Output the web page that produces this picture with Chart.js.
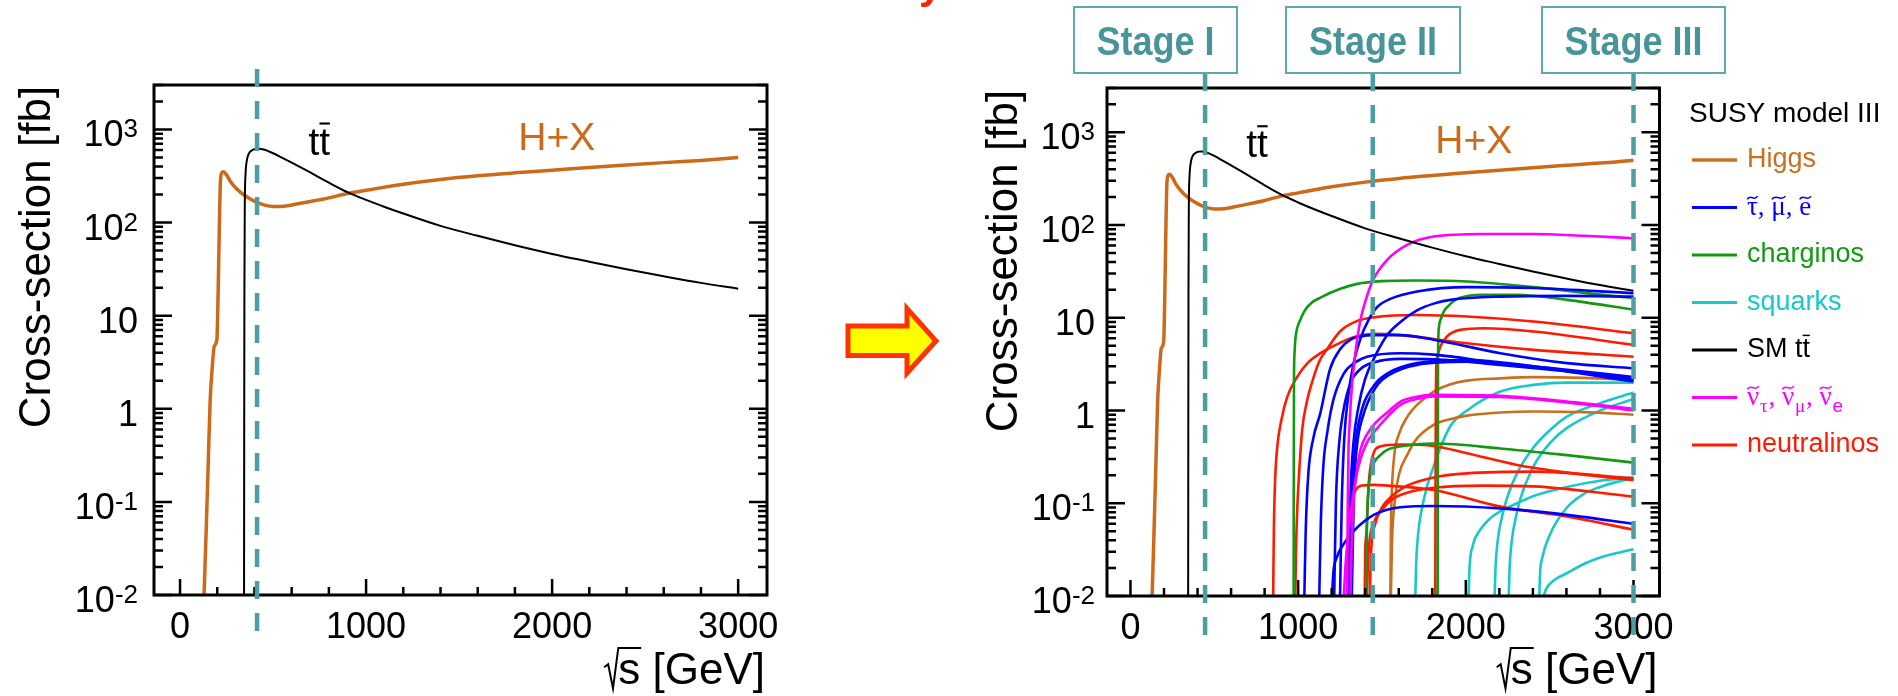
<!DOCTYPE html>
<html>
<head>
<meta charset="utf-8">
<script src="https://cdn.jsdelivr.net/npm/chart.js@4.4.1/dist/chart.umd.min.js"></script>
<style>
  html, body { margin: 0; padding: 0; background: #fff; }
  body { width: 1898px; height: 696px; position: relative; overflow: hidden; }
  canvas { position: absolute; top: 0; }
  #left { left: 0; }
  #right { left: 960px; }
</style>
</head>
<body>
<canvas id="left" width="960" height="696"></canvas>
<canvas id="right" width="938" height="696"></canvas>
<script>
var SANS = "'Liberation Sans', Arial, Helvetica, sans-serif";
var SERIF = "'Liberation Serif', 'Times New Roman', serif";

// ---- axes ----
var X_MIN = -140, X_MAX = 3155, Y_MIN = 0.01, Y_MAX = 3000;
var xTickValues = [0, 1000, 2000, 3000];
var xMinorStep = 200;
var yTickValues = [0.01, 0.1, 1, 10, 100, 1000];
var yTickLabels = ['10^{-2}', '10^{-1}', '1', '10', '10^{2}', '10^{3}'];
var yTitle = 'Cross-section [fb]';
var xTitle = '#sqrt{s} [GeV]';

// ---- stages ----
var stageLeftPlot = [414];
var stageEnergies = [445, 1445, 3000];
var stageNames = ['Stage I', 'Stage II', 'Stage III'];

// ---- SM processes: [sqrt(s) GeV, cross-section fb] ----
var higgsSM = [[129,0.01],[140,0.046],[151,0.24],[162,1.25],[172,2.6],[184,4.7],[198,5.5],[203,12],[208,40],[212,110],[216,250],[222,335],[234,352],[250,325],[270,278],[300,235],[340,200],[380,178],[420,163],[460,153],[500,149],[560,150],[620,157],[700,168],[800,184],[900,205],[1000,222],[1100,240],[1200,258],[1400,290],[1600,318],[1800,342],[2000,365],[2200,390],[2400,415],[2600,440],[2800,465],[3000,500]];
var ttbarSM = [[344,0.01],[345,1],[346,20],[348,150],[352,330],[358,450],[368,540],[385,595],[405,618],[425,622],[450,608],[500,555],[550,495],[600,440],[700,345],[800,268],[900,212],[1000,175],[1100,147],[1200,125],[1400,92],[1600,72],[1800,57],[2000,46],[2200,38],[2400,31.5],[2600,26.5],[2800,22.5],[3000,19.5]];

// ---- SUSY model III ----
var higgs2 = [[1550,0.01],[1553,0.05],[1560,0.15],[1575,0.35],[1600,0.55],[1650,0.85],[1709,1.15],[1808,1.6],[1900,1.9],[2007,2.1],[2206,2.22],[2404,2.29],[2700,2.25],[3000,2.14]];
var higgs3 = [[1553,0.01],[1560,0.04],[1575,0.1],[1600,0.2],[1650,0.33],[1709,0.5],[1808,0.7],[1900,0.8],[2007,0.88],[2206,0.95],[2404,0.975],[2700,0.96],[3000,0.9]];

var slepton1 = [[1037,0.01],[1045,0.05],[1060,0.2],[1090,0.5],[1132,0.93],[1190,2.8],[1251,4.6],[1312,5.8],[1372,6.3],[1451,6.5],[1610,6.5],[1808,5.8],[2206,4.15],[2603,3.24],[3000,2.86]];
var slepton2 = [[1126,0.01],[1135,0.06],[1150,0.25],[1175,0.6],[1210,1.3],[1272,2.5],[1340,3.3],[1411,3.8],[1610,4.15],[1808,4.0],[2206,3.24],[2603,2.75],[3000,2.3]];
var slepton3 = [[1250,0.01],[1260,0.1],[1275,0.5],[1300,1.5],[1330,3.2],[1372,6],[1420,9.5],[1471,13],[1550,16],[1709,19.2],[2007,21.4],[2404,20.9],[3000,18.4]];
var slepton4 = [[1300,0.01],[1312,0.12],[1330,0.45],[1360,1.1],[1400,2.2],[1451,3.6],[1531,6.5],[1610,9],[1709,12],[1808,14.2],[1908,15.6],[2206,16.9],[2600,17.2],[3000,16.9]];
var slepton5 = [[1215,0.01],[1225,0.1],[1245,0.45],[1270,1.0],[1312,1.97],[1372,2.8],[1451,3.3],[1610,3.6],[1808,3.57],[2206,3.1],[2600,2.65],[3000,2.23]];
var slepton6 = [[1310,0.01],[1322,0.12],[1340,0.4],[1372,0.9],[1451,1.85],[1531,2.5],[1709,3.24],[2007,3.5],[2404,3.0],[3000,2.14]];
var slepton7 = [[1320,0.01],[1332,0.12],[1350,0.4],[1385,0.85],[1460,1.75],[1540,2.4],[1709,3.1],[2007,3.35],[2404,2.95],[3000,2.05]];
var slepton8 = [[1202,0.01],[1210,0.018],[1230,0.026],[1270,0.036],[1331,0.05],[1400,0.065],[1451,0.075],[1530,0.085],[1610,0.0906],[1808,0.0935],[2206,0.088],[2603,0.075],[3000,0.06]];

var chargino1 = [[973,0.01],[974,0.3],[975,2],[978,4],[984,6],[995,7.8],[1013,9.5],[1040,12],[1080,14.5],[1133,16.5],[1252,20.5],[1352,23.2],[1500,24.8],[1700,25.2],[2007,24.6],[2404,21.4],[2801,17.8],[3000,16.3]];
var chargino2 = [[1832,0.01],[1833,0.5],[1834,3],[1836,6],[1840,8],[1852,9.8],[1870,11.8],[1892,13.2],[1925,15],[1961,16.3],[2100,17.7],[2300,17.7],[2603,15.6],[3000,12.2]];
var chargino3 = [[1407,0.01],[1410,0.05],[1418,0.13],[1430,0.2],[1451,0.27],[1490,0.33],[1531,0.376],[1650,0.42],[1808,0.44],[2206,0.39],[2603,0.33],[3000,0.274]];

var squark1 = [[1699,0.01],[1703,0.02],[1709,0.034],[1749,0.109],[1808,0.25],[1908,0.68],[2007,1.0],[2206,1.6],[2404,1.89],[2603,2.0],[3000,2.0]];
var squark2 = [[2172,0.01],[2177,0.02],[2186,0.034],[2226,0.085],[2305,0.21],[2404,0.4],[2504,0.62],[2603,0.86],[2801,1.2],[3000,1.56]];
var squark3 = [[2256,0.01],[2261,0.02],[2270,0.034],[2305,0.08],[2404,0.25],[2504,0.45],[2603,0.65],[2801,1.0],[3000,1.33]];
var squark4 = [[2017,0.01],[2022,0.02],[2040,0.034],[2080,0.05],[2150,0.07],[2206,0.082],[2305,0.1],[2404,0.12],[2603,0.15],[2801,0.175],[3000,0.19]];
var squark5 = [[2438,0.01],[2443,0.018],[2454,0.025],[2504,0.047],[2603,0.09],[2700,0.125],[2801,0.15],[2900,0.17],[3000,0.186]];
var squark6 = [[2464,0.01],[2480,0.012],[2530,0.015],[2603,0.0176],[2700,0.022],[2801,0.026],[2900,0.029],[3000,0.032]];

var sneutrino1 = [[1292,0.01],[1296,0.1],[1300,0.35],[1308,0.79],[1320,1.8],[1332,2.98],[1350,5.5],[1372,9.5],[1410,17],[1447,25.6],[1531,42],[1650,61],[1808,75],[2106,80],[2404,80],[2702,76.6],[3000,72]];
var sneutrino2 = [[1312,0.01],[1318,0.03],[1332,0.11],[1350,0.22],[1372,0.38],[1410,0.55],[1451,0.7],[1531,0.95],[1610,1.25],[1700,1.4],[1808,1.48],[2206,1.44],[2603,1.25],[3000,1.04]];
var sneutrino3 = [[1272,0.01],[1285,0.025],[1310,0.07],[1340,0.17],[1372,0.3],[1410,0.45],[1451,0.58],[1531,0.85],[1610,1.15],[1700,1.32],[1808,1.42],[2206,1.4],[2603,1.22],[3000,1.0]];

var neutralino1 = [[851,0.01],[855,0.05],[861,0.15],[875,0.4],[900,0.79],[935,1.4],[994,2.3],[1060,3.3],[1133,4.15],[1252,5.4],[1350,6.3],[1451,6.7],[1610,6.5],[2007,5.3],[2404,4.5],[3000,3.8]];
var neutralino2 = [[983,0.01],[987,0.03],[994,0.08],[1005,0.2],[1024,0.62],[1050,1.2],[1093,2.3],[1130,3.5],[1173,4.6],[1252,7.2],[1350,9.2],[1451,10.1],[1709,10.7],[2007,10.3],[2404,9.1],[3000,6.8]];
var neutralino3 = [[1818,0.01],[1819,0.1],[1821,1],[1824,3],[1830,3.8],[1848,4.9],[1888,6.3],[1967,7.4],[2106,7.7],[2404,7.1],[3000,5.1]];
var neutralino4 = [[1397,0.01],[1400,0.03],[1407,0.047],[1421,0.164],[1441,0.305],[1491,0.41],[1610,0.43],[1808,0.415],[2007,0.346],[2305,0.259],[2603,0.214],[3000,0.178]];
var neutralino5 = [[1290,0.01],[1300,0.04],[1320,0.1],[1345,0.14],[1380,0.155],[1451,0.158],[1531,0.155],[1808,0.139],[2206,0.092],[2603,0.072],[3000,0.052]];
var neutralino6 = [[1410,0.01],[1420,0.03],[1450,0.06],[1500,0.085],[1560,0.11],[1650,0.13],[1808,0.147],[2106,0.155],[2404,0.152],[3000,0.118]];
var neutralino7 = [[1427,0.01],[1435,0.03],[1460,0.06],[1500,0.09],[1560,0.12],[1650,0.155],[1808,0.19],[2007,0.21],[2404,0.219],[3000,0.186]];

var heavyHiggs = [higgs2, higgs3];
var sleptons = [slepton1, slepton2, slepton3, slepton4, slepton5, slepton6, slepton7, slepton8];
var charginos = [chargino1, chargino2, chargino3];
var squarks = [squark1, squark2, squark3, squark4, squark5, squark6];
var sneutrinos = [sneutrino1, sneutrino2, sneutrino3];
var neutralinos = [neutralino1, neutralino2, neutralino3, neutralino4, neutralino5, neutralino6, neutralino7];

// ---- legend ----
var legendTitle = 'SUSY model III';
var legendLabels = ['Higgs', '#tilde{τ}, #tilde{μ}, #tilde{e}', 'charginos', 'squarks', 'SM t#bar{t}', '#tilde{ν}_{τ}, #tilde{ν}_{μ}, #tilde{ν}_{e}', 'neutralinos'];
var legendColors = ['#c8701e', '#0000ff', '#119911', '#19c8c8', '#000000', '#ff00ff', '#ff1a00'];

var COL = {
  higgsSM: '#cc6a1a', higgs: '#c8701e', ttbar: '#000000', slepton: '#0000ff', chargino: '#119911',
  squark: '#19c8c8', sneutrino: '#ff00ff', neutralino: '#ff1a00', stage: '#4d9ea3', stageText: '#479599'
};

/** small ROOT-like rich text: #tilde{}, #bar{}, #sqrt{}, _{}, ^{} */
function richText(ctx, str, x, y, size, color, opts) {
  opts = opts || {};
  var draw = !opts.measure;
  var baseFont = opts.serif ? SERIF : SANS;
  var re = /#tilde\{([^}]*)\}|#bar\{([^}]*)\}|#sqrt\{([^}]*)\}|_\{([^}]*)\}|\^\{([^}]*)\}|([^#_^]+)/g;
  var m, cx = x, w, t;
  ctx.save();
  ctx.fillStyle = color;
  ctx.strokeStyle = color;
  ctx.textAlign = 'left';
  ctx.textBaseline = 'alphabetic';
  while ((m = re.exec(str)) !== null) {
    if (m[1] !== undefined) {
      t = m[1];
      ctx.font = size + 'px ' + SERIF;
      w = ctx.measureText(t).width;
      if (draw) {
        ctx.fillText(t, cx, y);
        var tc = cx + w / 2, ty = y - size * 0.62, tw = w * 0.95, a = size * 0.1;
        ctx.lineWidth = size * 0.055;
        ctx.beginPath();
        ctx.moveTo(tc - tw / 2, ty + a * 0.6);
        ctx.bezierCurveTo(tc - tw / 6, ty - a * 1.6, tc + tw / 6, ty + a * 1.6, tc + tw / 2, ty - a * 0.6);
        ctx.stroke();
      }
    } else if (m[2] !== undefined) {
      t = m[2];
      ctx.font = size + 'px ' + baseFont;
      w = ctx.measureText(t).width;
      if (draw) {
        ctx.fillText(t, cx, y);
        ctx.lineWidth = size * 0.055;
        ctx.beginPath();
        ctx.moveTo(cx + w * 0.02, y - size * 0.8);
        ctx.lineTo(cx + w * 0.98, y - size * 0.8);
        ctx.stroke();
      }
    } else if (m[3] !== undefined) {
      t = m[3];
      ctx.font = size + 'px ' + baseFont;
      var iw = ctx.measureText(t).width, rw = size * 0.32;
      w = rw + iw;
      if (draw) {
        ctx.lineWidth = size * 0.045;
        ctx.beginPath();
        ctx.moveTo(cx, y - size * 0.38);
        ctx.lineTo(cx + size * 0.09, y - size * 0.45);
        ctx.lineTo(cx + size * 0.2, y + size * 0.1);
        ctx.lineTo(cx + rw, y - size * 0.82);
        ctx.lineTo(cx + w + size * 0.02, y - size * 0.82);
        ctx.stroke();
        ctx.fillText(t, cx + rw, y);
      }
    } else if (m[4] !== undefined) {
      t = m[4];
      var sf = /[\u0370-\u03ff]/.test(t) ? SERIF : SANS;
      ctx.font = Math.round(size * 0.72) + 'px ' + sf;
      w = ctx.measureText(t).width + size * 0.06;
      if (draw) ctx.fillText(t, cx + size * 0.03, y + size * 0.27);
    } else if (m[5] !== undefined) {
      t = m[5];
      ctx.font = Math.round(size * 0.72) + 'px ' + baseFont;
      w = ctx.measureText(t).width;
      if (draw) ctx.fillText(t, cx, y - size * 0.25);
    } else {
      t = m[6];
      ctx.font = size + 'px ' + baseFont;
      w = ctx.measureText(t).width;
      if (draw) ctx.fillText(t, cx, y);
    }
    cx += w;
  }
  ctx.restore();
  return cx - x;
}

/** Frame, inward ticks and labels in ROOT style */
function drawFrame(chart, cfg) {
  var ctx = chart.ctx, a = chart.chartArea;
  var xs = chart.scales.x, ys = chart.scales.y;
  ctx.save();
  ctx.strokeStyle = '#000';
  ctx.lineWidth = 2.5;
  ctx.beginPath();
  for (var v = 0; v <= X_MAX; v += xMinorStep) {
    var px = xs.getPixelForValue(v);
    var len = xTickValues.indexOf(v) >= 0 ? 16 : 8;
    ctx.moveTo(px, a.bottom);
    ctx.lineTo(px, a.bottom - len);
  }
  for (var n = -2; n <= 3; n++) {
    for (var k = 1; k <= 9; k++) {
      var val = k * Math.pow(10, n);
      if (val > Y_MAX * 1.0001) break;
      var py = ys.getPixelForValue(val);
      var l = k === 1 ? 18 : 9;
      ctx.moveTo(a.left, py); ctx.lineTo(a.left + l, py);
      ctx.moveTo(a.right, py); ctx.lineTo(a.right - l, py);
    }
  }
  ctx.stroke();
  ctx.lineWidth = 3;
  ctx.strokeRect(a.left, a.top, a.right - a.left, a.bottom - a.top);
  ctx.restore();

  // tick labels
  ctx.save();
  ctx.fillStyle = '#000';
  ctx.font = '36px ' + SANS;
  ctx.textAlign = 'center';
  ctx.textBaseline = 'alphabetic';
  xTickValues.forEach(function(v) {
    ctx.fillText(String(v), xs.getPixelForValue(v), a.bottom + 43);
  });
  ctx.restore();
  yTickValues.forEach(function(v, i) {
    var py = ys.getPixelForValue(v) + 17;
    var w = richText(ctx, yTickLabels[i], 0, 0, 36, '#000', { measure: true });
    richText(ctx, yTickLabels[i], a.left - cfg.labelGap - w, py, 36, '#000');
  });

  // axis titles
  ctx.save();
  ctx.fillStyle = '#000';
  ctx.font = '44px ' + SANS;
  ctx.textAlign = 'center';
  ctx.translate(cfg.yTitleX, cfg.yTitleY);
  ctx.rotate(-Math.PI / 2);
  ctx.fillText(yTitle, 0, 0);
  ctx.restore();
  var tw = richText(ctx, xTitle, 0, 0, 44, '#000', { measure: true });
  richText(ctx, xTitle, a.right - 2 - tw, 684, 44, '#000');
}

function drawStageLines(chart, energies, top, bottom) {
  var ctx = chart.ctx, xs = chart.scales.x;
  ctx.save();
  ctx.strokeStyle = COL.stage;
  ctx.lineWidth = 4.5;
  ctx.setLineDash([18, 14]);
  energies.forEach(function(e) {
    var px = xs.getPixelForValue(e);
    ctx.beginPath();
    ctx.moveTo(px, top);
    ctx.lineTo(px, bottom);
    ctx.stroke();
  });
  ctx.restore();
}

function drawProcessLabels(chart) {
  var xs = chart.scales.x, ys = chart.scales.y, ctx = chart.ctx;
  richText(ctx, 't#bar{t}', xs.getPixelForValue(690), ys.getPixelForValue(535), 39, '#000');
  richText(ctx, 'H+X', xs.getPixelForValue(1818), ys.getPixelForValue(600), 39, COL.higgsSM);
}

function curve(points, color, width) {
  return {
    data: points.map(function(p) { return { x: p[0], y: p[1] }; }),
    borderColor: color,
    borderWidth: width,
    fill: false,
    pointRadius: 0,
    cubicInterpolationMode: 'monotone'
  };
}

function makeChart(canvasId, datasets, pad, plugin) {
  return new Chart(document.getElementById(canvasId), {
    type: 'line',
    data: { datasets: datasets },
    options: {
      responsive: false,
      animation: false,
      devicePixelRatio: 1,
      layout: { padding: pad },
      plugins: { legend: { display: false }, tooltip: { enabled: false } },
      scales: {
        x: { type: 'linear', min: X_MIN, max: X_MAX, display: false },
        y: { type: 'logarithmic', min: Y_MIN, max: Y_MAX, display: false }
      }
    },
    plugins: [plugin]
  });
}

// ---- left chart: SM only ----
makeChart('left', [
  curve(ttbarSM, COL.ttbar, 2),
  curve(higgsSM, COL.higgsSM, 3.5)
], { left: 154, right: 193, top: 85, bottom: 101 }, {
  id: 'leftDecor',
  afterDraw: function(chart) {
    var ctx = chart.ctx;
    drawFrame(chart, { labelGap: 16, yTitleX: 50, yTitleY: 257 });
    drawProcessLabels(chart);
    drawStageLines(chart, stageLeftPlot, 69, 643);
    // arrow to the right-hand plot
    ctx.save();
    ctx.beginPath();
    ctx.moveTo(848, 326); ctx.lineTo(907, 326); ctx.lineTo(907, 308.5);
    ctx.lineTo(936, 341); ctx.lineTo(907, 373); ctx.lineTo(907, 355.5);
    ctx.lineTo(848, 355.5); ctx.closePath();
    ctx.fillStyle = '#ffff00'; ctx.fill();
    ctx.lineWidth = 5; ctx.strokeStyle = '#ff3300'; ctx.stroke();
    // cut-off title glyph at the top edge
    ctx.fillStyle = '#ff2200';
    ctx.font = 'bold 42px ' + SANS;
    ctx.fillText('y', 919, -2);
    ctx.restore();
  }
});

// ---- right chart: SM + SUSY model III ----
var rightSets = [curve(ttbarSM, COL.ttbar, 2), curve(higgsSM, COL.higgsSM, 3.5)];
sneutrinos.forEach(function(c) { rightSets.push(curve(c, COL.sneutrino, 2.6)); });
sleptons.forEach(function(c) { rightSets.push(curve(c, COL.slepton, 2.6)); });
charginos.forEach(function(c) { rightSets.push(curve(c, COL.chargino, 2.6)); });
neutralinos.forEach(function(c) { rightSets.push(curve(c, COL.neutralino, 2.6)); });
heavyHiggs.forEach(function(c) { rightSets.push(curve(c, COL.higgs, 2.6)); });
squarks.forEach(function(c) { rightSets.push(curve(c, COL.squark, 2.6)); });

var stageBoxes = [[114, 277], [326, 500], [582, 765]];

makeChart('right', rightSets, { left: 147, right: 238.5, top: 88, bottom: 100 }, {
  id: 'rightDecor',
  afterDraw: function(chart) {
    var ctx = chart.ctx;
    drawFrame(chart, { labelGap: 12, yTitleX: 56.5, yTitleY: 261 });
    drawProcessLabels(chart);
    drawStageLines(chart, stageEnergies, 73, 645);

    // stage boxes
    stageBoxes.forEach(function(b, i) {
      ctx.save();
      ctx.fillStyle = '#fff';
      ctx.fillRect(b[0], 7, b[1] - b[0], 66);
      ctx.strokeStyle = '#5ca8ac';
      ctx.lineWidth = 2;
      ctx.strokeRect(b[0], 7, b[1] - b[0], 66);
      ctx.fillStyle = COL.stageText;
      ctx.font = 'bold 40px ' + SANS;
      ctx.textAlign = 'center';
      ctx.translate((b[0] + b[1]) / 2, 55);
      ctx.scale(0.9, 1);
      ctx.fillText(stageNames[i], 0, 0);
      ctx.restore();
    });

    // legend
    ctx.save();
    ctx.fillStyle = '#000';
    ctx.font = '28px ' + SANS;
    ctx.fillText(legendTitle, 729, 122);
    ctx.restore();
    legendLabels.forEach(function(lbl, i) {
      var cy = 160 + i * 47.5;
      ctx.save();
      ctx.strokeStyle = legendColors[i];
      ctx.lineWidth = i === 0 ? 3.5 : 3;
      ctx.beginPath();
      ctx.moveTo(732, cy);
      ctx.lineTo(777, cy);
      ctx.stroke();
      ctx.restore();
      richText(ctx, lbl, 787, cy + 7, 27, legendColors[i], { serif: lbl.indexOf('#tilde') >= 0 });
    });
  }
});
</script>
</body>
</html>
